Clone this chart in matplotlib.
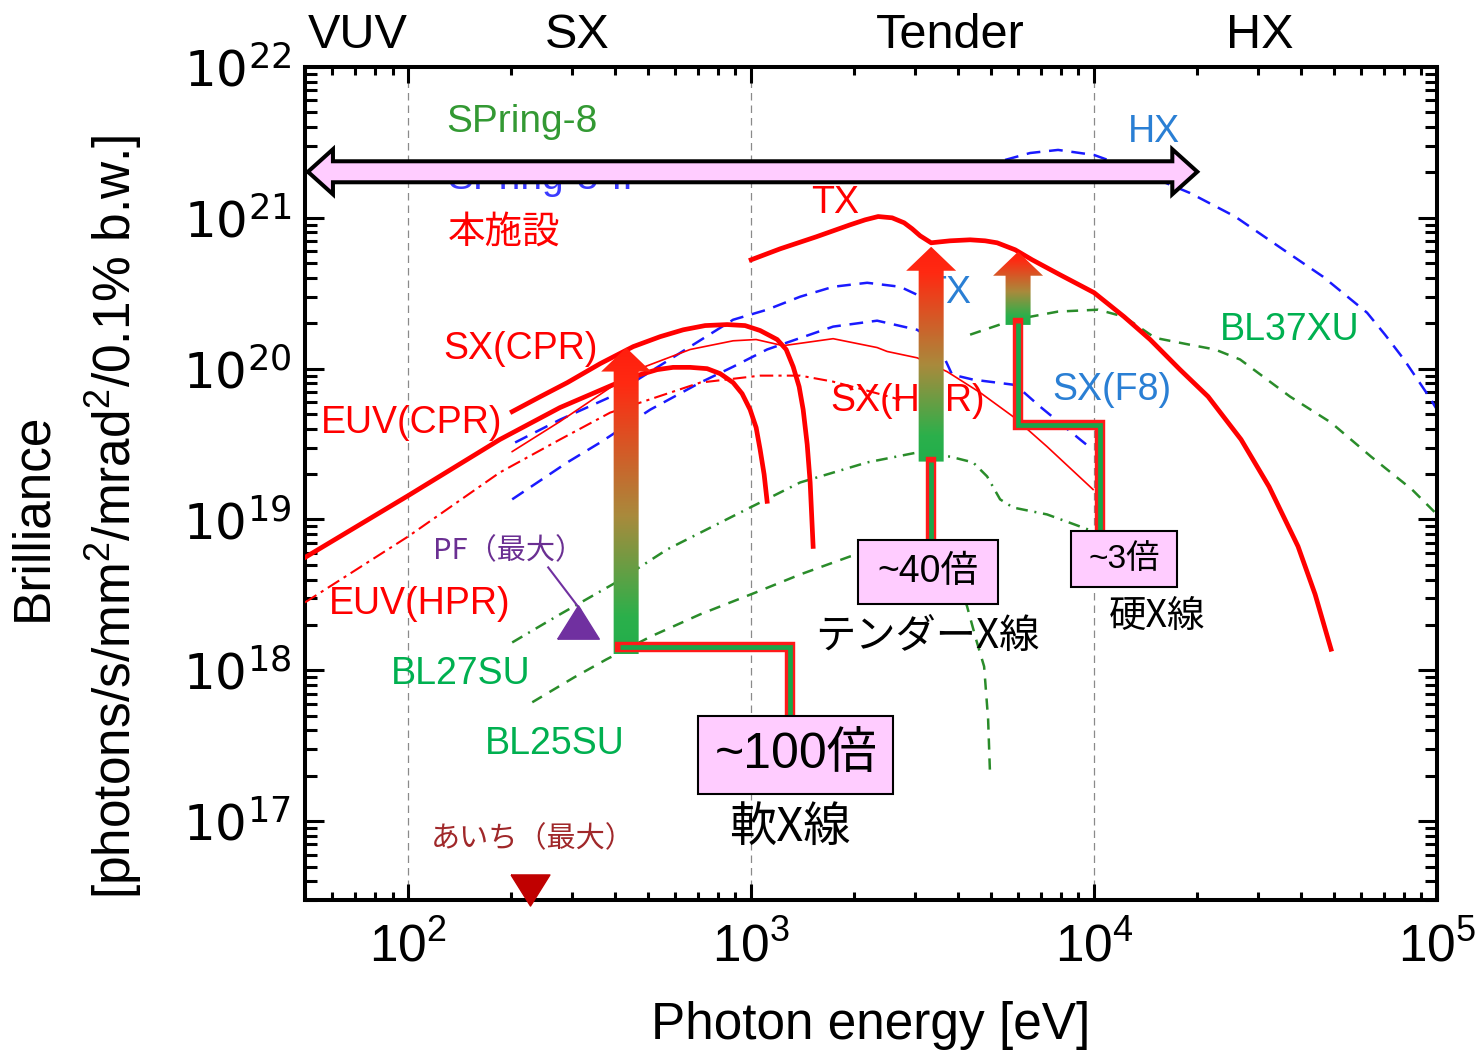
import numpy as np
import matplotlib
matplotlib.use("Agg")
import matplotlib.pyplot as plt
import matplotlib.transforms as mtransforms
from matplotlib.patches import Polygon, Rectangle
from matplotlib.colors import LinearSegmentedColormap
from matplotlib.ticker import LogLocator, NullFormatter

# ---------------------------------------------------------------------------
# Spectral brilliance curves: photon energy [eV] and brilliance values
# ---------------------------------------------------------------------------
# this facility (red)
euv_cpr_E = [50, 100, 185, 277, 396, 435, 475, 532, 592, 664, 744, 812, 886,
             941, 993, 1034, 1062, 1091, 1113]
euv_cpr_B = [5.60e18, 1.44e19, 3.39e19, 5.52e19, 7.83e19, 8.46e19, 9.13e19,
             9.85e19, 1.02e20, 1.02e20, 1.00e20, 9.27e19, 8.08e19, 6.83e19,
             5.35e19, 4.07e19, 2.91e19, 1.99e19, 1.32e19]

sx_cpr_E = [201, 243, 291, 363, 453, 543, 634, 734, 851, 960, 1062, 1191,
            1265, 1326, 1380, 1418, 1457, 1486, 1516]
sx_cpr_B = [5.19e19, 6.53e19, 8.08e19, 1.08e20, 1.40e20, 1.63e20, 1.81e20,
            1.93e20, 1.96e20, 1.93e20, 1.79e20, 1.56e20, 1.34e20, 1.03e20,
            7.60e19, 5.35e19, 3.14e19, 1.76e19, 6.63e18]

tx_E = [1000, 1215, 1547, 1944, 2150, 2346, 2577, 2793, 2947, 3110, 3349,
        3556, 3804, 4350, 4811, 5215, 5885, 6596, 7959, 10000, 12230, 14570,
        17810, 21500, 26830, 32380, 39330, 44110, 49090]
tx_B = [5.27e20, 6.23e20, 7.48e20, 8.99e20, 9.70e20, 1.02e21, 1.00e21,
        9.27e20, 8.46e20, 7.60e20, 6.83e20, 6.93e20, 7.04e20, 7.15e20,
        7.04e20, 6.83e20, 6.14e20, 5.27e20, 4.19e20, 3.19e20, 2.21e20,
        1.56e20, 9.85e19, 6.53e19, 3.39e19, 1.65e19, 6.63e18, 3.19e18,
        1.38e18]

sx_hpr_E = [201, 277, 388, 484, 664, 886, 1034, 1240, 1734, 2330, 2492,
            3048, 3728, 4653, 5805, 7294, 9934]
sx_hpr_B = [2.82e19, 4.46e19, 7.48e19, 1.02e20, 1.34e20, 1.53e20, 1.56e20,
            1.42e20, 1.58e20, 1.38e20, 1.30e20, 1.18e20, 9.55e19, 6.94e19,
            4.81e19, 3.04e19, 1.58e19]

euv_hpr_E = [50, 100, 185, 277, 388, 710, 1062, 1390, 1734, 2179, 2719]
euv_hpr_B = [2.82e18, 7.72e18, 2.05e19, 3.39e19, 5.11e19, 8.08e19, 8.99e19,
             8.99e19, 8.20e19, 7.15e19, 6.23e19]

# SPring-8-II (blue)
s8ii_tx_E = [205, 277, 385, 508, 664, 886, 1113, 1390, 1734, 2179, 2719,
             3048, 3556]
s8ii_tx_B = [3.24e19, 4.59e19, 6.43e19, 9.55e19, 1.40e20, 2.11e20, 2.46e20,
             3.00e20, 3.49e20, 3.71e20, 3.49e20, 3.09e20, 2.65e20]

s8ii_sx_E = [201, 291, 363, 508, 710, 886, 1113, 1734, 2330, 3048, 3439,
             3678, 3855, 4438, 5805, 6209, 6960, 9104, 9734]
s8ii_sx_B = [1.36e19, 2.39e19, 3.24e19, 5.35e19, 8.08e19, 1.03e20, 1.34e20,
             1.90e20, 2.08e20, 1.81e20, 1.51e20, 1.15e20, 9.13e19, 8.46e19,
             7.83e19, 7.04e19, 5.60e19, 3.39e19, 3.00e19]

s8ii_hx_E = [5502, 6508, 7852, 10000, 12735, 19053, 25770, 34630, 46530,
             62520, 70540, 80130, 94770, 100000]
s8ii_hx_B = [2.42e21, 2.69e21, 2.82e21, 2.61e21, 2.14e21, 1.46e21, 1.02e21,
             6.43e20, 4.07e20, 2.35e20, 1.68e20, 1.15e20, 6.53e19, 5.35e19]

# SPring-8 beamlines (green)
bl37xu_E = [4350, 5845, 7852, 10270, 12230, 15060, 19053, 22530, 26660,
            37270, 49090, 64230, 84560, 100000]
bl37xu_B = [1.68e20, 2.11e20, 2.39e20, 2.46e20, 2.21e20, 1.60e20, 1.44e20,
            1.34e20, 1.15e20, 6.53e19, 4.39e19, 2.61e19, 1.58e19, 1.08e19]

bl27su_E = [201, 277, 404, 569, 993, 1390, 2179, 3048, 3804, 4438, 4876,
            5320, 5805, 7294, 9605]
bl27su_B = [1.53e18, 2.35e18, 3.83e18, 6.33e18, 1.20e19, 1.76e19, 2.39e19,
            2.78e19, 2.61e19, 2.39e19, 1.93e19, 1.36e19, 1.20e19, 1.08e19,
            8.59e18]

bl25su_E = [230, 305, 378, 511, 710, 1034, 1390, 1944, 2378, 2908, 3439,
            3933, 4263, 4529, 4779, 4909, 4975]
bl25su_B = [6.14e17, 8.99e17, 1.18e18, 1.68e18, 2.35e18, 3.29e18, 4.32e18,
            5.69e18, 6.33e18, 6.83e18, 6.53e18, 4.67e18, 2.65e18, 1.60e18,
            1.06e18, 4.74e17, 1.99e17]

# maximum brilliance of other light sources
pf_max = (313, 2.08e18)
aichi_max = (227, 3.49e16)

# gain arrows: energy, lower brilliance, upper brilliance, label
gain_E = [432, 3349, 6003]
gain_low = [1.28e18, 2.42e19, 1.95e20]
gain_high = [1.38e20, 6.43e20, 5.96e20]
gain_labels = ["~100倍", "~40倍", "~3倍"]
gain_sizes = [36, 27, 24]

# label boxes (E_left, E_right, B_bottom, B_top) and region captions
gain_boxes = [(701, 2594, 1.51e17, 4.96e17),
              (2051, 5250, 2.74e18, 7.26e18),
              (8568, 17460, 3.55e18, 8.34e18)]
captions = ["軟X線", "テンダーX線", "硬X線"]
caption_pos = [(1299, 9.12e16), (3260, 1.66e18), (15270, 2.28e18)]
caption_sizes = [34, 29, 27]

# leader lines joining the arrows to their boxes
leaders = [[(415, 1.42e18), (1299, 1.42e18), (1299, 4.96e17)],
           [(3349, 2.42e19), (3349, 7.26e18)],
           [(6003, 2.02e20), (6003, 4.26e19), (10410, 4.26e19),
            (10410, 8.34e18)]]

# SPring-8 energy coverage
spring8_range = (51, 2.0e4)
spring8_level = 2.02e21

regions = ["VUV", "SX", "Tender", "HX"]
region_E = [71, 311, 3804, 30480]

x_ticks = [1e2, 1e3, 1e4, 1e5]
y_ticks = [1e17, 1e18, 1e19, 1e20, 1e21, 1e22]

# ---------------------------------------------------------------------------
RED = "#ff0000"
BLUE = "#1a1aff"
GREEN = "#2a8c2a"
LBLUE = "#2a7fd4"
LGREEN = "#00b050"
PINK = "#ffccff"

LAT = ["Liberation Sans", "Noto Sans CJK JP", "DejaVu Sans"]
JP = ["Noto Sans CJK JP", "DejaVu Sans"]

plt.rcParams["font.family"] = LAT

W, H, DPI = 1477, 1052, 100
fig = plt.figure(figsize=(W / DPI, H / DPI), dpi=DPI)
ax = fig.add_axes([305 / W, 1 - 900 / H, 1132 / W, 833 / H])
ax.set_xscale("log")
ax.set_yscale("log")
ax.set_xlim(50, 1e5)
ax.set_ylim(3.0e16, 1e22)
ax.set_autoscale_on(False)

for e in x_ticks[:3]:
    ax.axvline(e, color="#8a8a8a", lw=0.9, ls=(0, (6, 4)), zorder=1)

# curves
ax.plot(euv_cpr_E, euv_cpr_B, color=RED, lw=3.4, zorder=3, solid_joinstyle="round")
ax.plot(sx_cpr_E, sx_cpr_B, color=RED, lw=3.4, zorder=3, solid_joinstyle="round")
ax.plot(tx_E, tx_B, color=RED, lw=3.4, zorder=3, solid_joinstyle="round")
ax.plot(sx_hpr_E, sx_hpr_B, color=RED, lw=1.2, zorder=3)
ax.plot(euv_hpr_E, euv_hpr_B, color=RED, lw=1.5, dashes=(6.5, 2.5, 1.5, 2.5), zorder=3)

for E, B in [(s8ii_tx_E, s8ii_tx_B), (s8ii_sx_E, s8ii_sx_B), (s8ii_hx_E, s8ii_hx_B)]:
    ax.plot(E, B, color=BLUE, lw=1.8, dashes=(5.5, 3.5), zorder=2)

ax.plot(bl37xu_E, bl37xu_B, color=GREEN, lw=1.8, dashes=(4.5, 3.5), zorder=2)
ax.plot(bl25su_E, bl25su_B, color=GREEN, lw=1.8, dashes=(4.5, 3.5), zorder=2)
ax.plot(bl27su_E, bl27su_B, color=GREEN, lw=1.8, dashes=(4.7, 2.7, 0.8, 2.7), zorder=2)

# markers for other facilities
up_tri = [(-1, -0.8), (1, -0.8), (0, 0.8), (-1, -0.8)]
down_tri = [(-1, 0.8), (1, 0.8), (0, -0.8), (-1, 0.8)]
ax.plot([pf_max[0]], [pf_max[1]], marker=up_tri, ms=30, color="#7030a0",
        ls="none", zorder=4)
ax.plot([256, 317], [4.81e18, 2.54e18], color="#7030a0", lw=1.5, zorder=4)
ax.plot([aichi_max[0]], [aichi_max[1]], marker=down_tri, ms=28, color="#c00000",
        ls="none", zorder=6, clip_on=False)


# in-plot labels
def label(E, B, s, color, size=27, family=LAT, **kw):
    ax.text(E, B, s, color=color, fontsize=size, family=family,
            ha="center", va="center", zorder=4, **kw)


label(215, 4.33e21, "SPring-8", "#339933", 28)
ax.text(130, 1.56e21, "SPring-8-II", color="#3b3bff", fontsize=28,
        family=LAT, ha="left", va="baseline", zorder=4)
label(190.5, 8.08e20, "本施設", RED, 27, JP)
label(1758, 1.26e21, "TX", RED)
label(212, 1.34e20, "SX(CPR)", RED)
label(102, 4.33e19, "EUV(CPR)", RED)
label(108, 2.74e18, "EUV(HPR)", RED)
label(2869, 6.14e19, "SX(HPR)", RED)
label(14960, 3.72e21, "HX", LBLUE)
label(3728, 3.19e20, "TX", LBLUE)
label(11280, 7.26e19, "SX(F8)", LBLUE)
label(37270, 1.81e20, "BL37XU", LGREEN)
label(141.8, 9.42e17, "BL27SU", LGREEN)
label(268, 3.24e17, "BL25SU", LGREEN)
label(196, 6.14e18, "PF（最大）", "#6a2f92", 21, JP)
label(231, 7.6e16, "あいち（最大）", "#a0282a", 21, JP)

# region names above the frame
top_tr = mtransforms.blended_transform_factory(ax.transData, ax.transAxes)
for name, e in zip(regions, region_E):
    ax.text(e, 1.0384, name, transform=top_tr, ha="center", va="center",
            fontsize=35, family=LAT, clip_on=False)

# ticks and frame
ax.set_xticks(x_ticks, [r"$\mathregular{10^{%d}}$" % int(np.log10(t)) for t in x_ticks],
              fontsize=37, fontfamily=LAT)
ax.set_yticks(y_ticks, [r"$\mathregular{10^{%d}}$" % int(np.log10(t)) for t in y_ticks],
              fontsize=36, fontfamily="DejaVu Sans")
ax.xaxis.set_minor_locator(LogLocator(base=10, subs=np.arange(2, 10), numticks=30))
ax.yaxis.set_minor_locator(LogLocator(base=10, subs=np.arange(2, 10), numticks=30))
ax.xaxis.set_minor_formatter(NullFormatter())
ax.yaxis.set_minor_formatter(NullFormatter())
ax.tick_params(axis="both", which="both", direction="in", top=True, right=True,
               width=2.2, colors="black")
ax.tick_params(axis="x", which="major", length=11.5, pad=16)
ax.tick_params(axis="x", which="minor", length=6)
ax.tick_params(axis="y", which="major", length=14, pad=10)
ax.tick_params(axis="y", which="minor", length=8.5)
for sp in ax.spines.values():
    sp.set_linewidth(2.9)

fig.text(33 / W, 1 - 517 / H, "Brilliance", rotation=90, ha="center",
         va="center", fontsize=37, family=LAT)
fig.text(114 / W, 1 - 517 / H,
         r"[photons/s/mm$^{\mathregular{2}}$/mrad$^{\mathregular{2}}$/0.1% b.w.]",
         rotation=90, ha="center", va="center", fontsize=37, family=LAT)
fig.text(871 / W, 1 - 1025 / H, "Photon energy [eV]", ha="center",
         va="center", fontsize=37, family=LAT)

# ---------------------------------------------------------------------------
# overlay in figure pixels for arrows, leaders and boxes
ov = fig.add_axes([0, 0, 1, 1])
ov.set_xlim(0, W)
ov.set_ylim(0, H)
ov.set_autoscale_on(False)
ov.axis("off")
ov.patch.set_alpha(0)


def to_px(E, B):
    return ax.transData.transform((E, B))


# SPring-8 double arrow
xl, yc = to_px(spring8_range[0], spring8_level)
xr, _ = to_px(spring8_range[1], spring8_level)
hl, hw, sw = 25, 22.5, 10.5
dbl = [(xl, yc), (xl + hl, yc + hw), (xl + hl, yc + sw), (xr - hl, yc + sw),
       (xr - hl, yc + hw), (xr, yc), (xr - hl, yc - hw), (xr - hl, yc - sw),
       (xl + hl, yc - sw), (xl + hl, yc - hw)]
ov.add_patch(Polygon(dbl, closed=True, facecolor=PINK, edgecolor="black",
                     lw=2.9, joinstyle="miter", zorder=2))

# gain arrows with red-to-green gradient
grad_cmap = LinearSegmentedColormap.from_list(
    "gain", [(0.0, "#ff1e0e"), (0.12, "#ff2a12"), (0.55, "#a98a3c"),
             (0.88, "#2bb04b"), (1.0, "#22ae4c")])
grad = np.linspace(0, 1, 256).reshape(-1, 1)
for E, lo, hi in zip(gain_E, gain_low, gain_high):
    x, y0 = to_px(E, lo)
    _, y1 = to_px(E, hi)
    shaft, headw, headl = 25, 50, 24
    yb = y1 - headl
    verts = [(x - shaft / 2, y0), (x + shaft / 2, y0), (x + shaft / 2, yb),
             (x + headw / 2, yb), (x, y1), (x - headw / 2, yb),
             (x - shaft / 2, yb)]
    poly = Polygon(verts, closed=True, facecolor="none", edgecolor="none")
    ov.add_patch(poly)
    im = ov.imshow(grad, cmap=grad_cmap, extent=[x - headw / 2, x + headw / 2, y0, y1],
                   origin="upper", aspect="auto", interpolation="bilinear", zorder=3)
    im.set_clip_path(poly)

# leaders
for path in leaders:
    pts = np.array([to_px(E, B) for E, B in path])
    ov.plot(pts[:, 0], pts[:, 1], color="#ff1a1a", lw=7.5, solid_joinstyle="miter",
            solid_capstyle="projecting", zorder=4)
    ov.plot(pts[:, 0], pts[:, 1], color="#1aa64a", lw=3.4, solid_joinstyle="miter",
            solid_capstyle="butt", zorder=5)

# boxes with gain factors and captions
for (el, er, bb, bt), txt, fs in zip(gain_boxes, gain_labels, gain_sizes):
    x0, y0 = to_px(el, bb)
    x1, y1 = to_px(er, bt)
    ov.add_patch(Rectangle((x0, y0), x1 - x0, y1 - y0, facecolor=PINK,
                           edgecolor="black", lw=1.5, zorder=6))
    ov.text((x0 + x1) / 2, (y0 + y1) / 2, txt, ha="center", va="center",
            fontsize=fs, family=LAT, zorder=7)

for txt, (E, B), fs in zip(captions, caption_pos, caption_sizes):
    px, py = to_px(E, B)
    ov.text(px, py, txt, ha="center", va="center", fontsize=fs, family=JP, zorder=7)

ov.set_xlim(0, W)
ov.set_ylim(0, H)

fig.savefig("out.png", dpi=DPI)
